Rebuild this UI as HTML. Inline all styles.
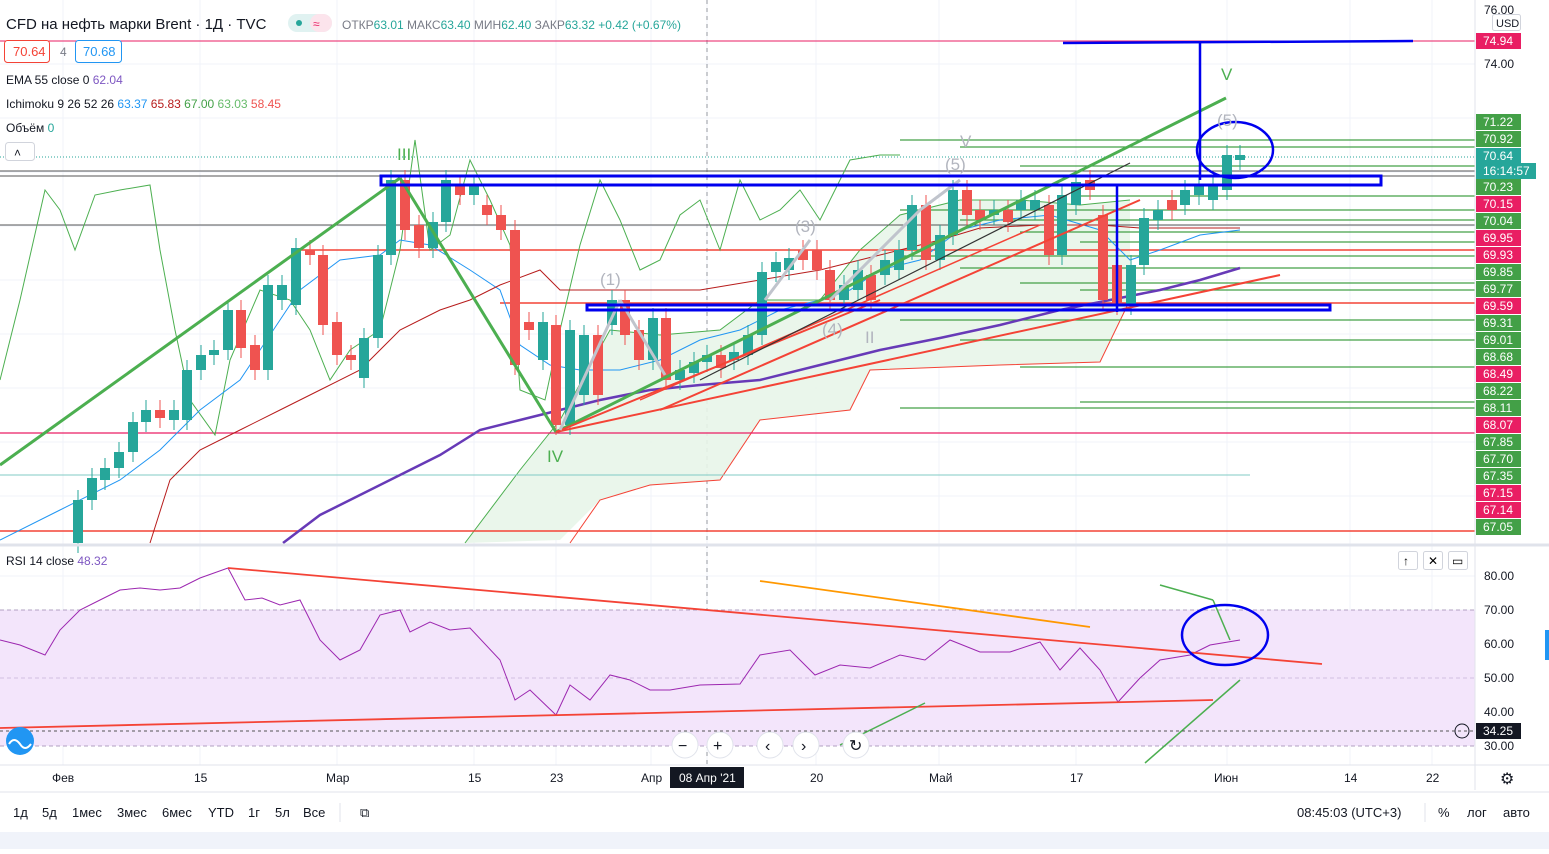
<!DOCTYPE html>
<html><head><meta charset="utf-8"><style>
body{margin:0;width:1549px;height:849px;overflow:hidden;background:#fff;font-family:"Liberation Sans","DejaVu Sans",sans-serif;}
svg text{font-family:"Liberation Sans","DejaVu Sans",sans-serif;}
</style></head><body>
<svg id="s" width="1549" height="849" xmlns="http://www.w3.org/2000/svg">
<rect width="1549" height="849" fill="#fff"/>
<g id="grid" stroke="#f0f3fa" stroke-width="1"></g>
<!-- RSI band -->
<rect x="0" y="610" width="1475" height="136" fill="#f3e5fb"/>
<line x1="0" y1="610" x2="1475" y2="610" stroke="#b0a0c0" stroke-dasharray="4,3"/>
<line x1="0" y1="746" x2="1475" y2="746" stroke="#b0a0c0" stroke-dasharray="4,3"/>
<line x1="0" y1="678" x2="1475" y2="678" stroke="#d0c0e0" stroke-dasharray="4,3"/>
<!-- cloud -->
<polygon points="465,543 520,470 560,420 610,330 660,335 720,330 760,300 820,300 860,250 900,215 960,200 1020,200 1080,205 1130,200 1130,300 1110,340 1100,362 1000,365 870,370 850,410 760,420 720,480 650,485 600,500 560,540" fill="#e8f5e9" opacity="0.9"/>
<polyline points="465,543 520,470 560,420 610,330 660,335 720,330 760,300 820,300 860,250 900,215 960,200 1020,200 1080,205 1130,200" fill="none" stroke="#4caf50" stroke-width="1"/>
<polyline points="570,543 600,500 650,485 720,480 760,420 850,410 870,370 1000,365 1100,362 1130,300" fill="none" stroke="#f44336" stroke-width="1"/>
<g id="lines"></g>
<g id="candles"></g>
<g id="over"></g>
<!-- pane separators -->
<line x1="0" y1="545" x2="1549" y2="545" stroke="#e0e3eb" stroke-width="3"/>
<line x1="0" y1="765" x2="1549" y2="765" stroke="#e0e3eb"/>
<line x1="1475" y1="0" x2="1475" y2="790" stroke="#e0e3eb"/>
<line x1="0" y1="792" x2="1549" y2="792" stroke="#e0e3eb"/>
<rect x="0" y="832" width="1549" height="17" fill="#f0f3fa"/>
<g id="axis"></g>
<!-- header -->
<text x="6" y="29" font-size="15" fill="#131722">CFD на нефть марки Brent · 1Д · TVC</text>
<rect x="288" y="14" width="44" height="18" rx="9" fill="#e0f2f1"/><rect x="310" y="14" width="22" height="18" rx="9" fill="#fce4ec"/>
<circle cx="299" cy="23" r="3" fill="#26a69a"/><text x="313" y="28" font-size="12" fill="#e91e63">≈</text>
<text x="342" y="29" font-size="12" fill="#787b86">ОТКР<tspan fill="#26a69a">63.01</tspan> МАКС<tspan fill="#26a69a">63.40</tspan> МИН<tspan fill="#26a69a">62.40</tspan> ЗАКР<tspan fill="#26a69a">63.32</tspan> <tspan fill="#26a69a">+0.42 (+0.67%)</tspan></text>
<rect x="4.5" y="40.5" width="45" height="22" rx="3" fill="#fff" stroke="#f44336"/><text x="13" y="56" font-size="13" fill="#f44336">70.64</text>
<text x="60" y="56" font-size="12" fill="#787b86">4</text>
<rect x="75.5" y="40.5" width="46" height="22" rx="3" fill="#fff" stroke="#2196f3"/><text x="83" y="56" font-size="13" fill="#2196f3">70.68</text>
<text x="6" y="84" font-size="12" fill="#131722">EMA 55 close 0 <tspan fill="#7e57c2">62.04</tspan></text>
<text x="6" y="108" font-size="12" fill="#131722">Ichimoku 9 26 52 26 <tspan fill="#2196f3">63.37</tspan> <tspan fill="#b71c1c">65.83</tspan> <tspan fill="#43a047">67.00</tspan> <tspan fill="#66bb6a">63.03</tspan> <tspan fill="#ef5350">58.45</tspan></text>
<text x="6" y="132" font-size="12" fill="#131722">Объём <tspan fill="#26a69a">0</tspan></text>
<rect x="5.5" y="142.5" width="29" height="18" rx="3" fill="#fff" stroke="#d1d4dc"/><text x="14" y="157" font-size="12" fill="#131722">˄</text>
<text x="6" y="565" font-size="12" fill="#131722">RSI 14 close <tspan fill="#7e57c2">48.32</tspan></text>
<!-- RSI buttons -->
<rect x="1398.5" y="551.5" width="19" height="18" rx="2" fill="#fff" stroke="#d1d4dc"/><text x="1403" y="565" font-size="12">↑</text>
<rect x="1423.5" y="551.5" width="19" height="18" rx="2" fill="#fff" stroke="#d1d4dc"/><text x="1428" y="565" font-size="12">✕</text>
<rect x="1448.5" y="551.5" width="19" height="18" rx="2" fill="#fff" stroke="#d1d4dc"/><text x="1452" y="565" font-size="12">▭</text>
<!-- nav buttons -->
<circle cx="20" cy="741" r="14" fill="#2196f3"/><path d="M9 744 q5-8 11 0 q5 8 11 0" fill="none" stroke="#fff" stroke-width="2"/>
<g fill="#fff" stroke="#e0e3eb"><circle cx="685" cy="745" r="13"/><circle cx="720" cy="745" r="13"/><circle cx="770" cy="745" r="13"/><circle cx="806" cy="745" r="13"/><circle cx="856" cy="745" r="13"/></g>
<g font-size="16" fill="#131722"><text x="678" y="751">−</text><text x="713" y="751">+</text><text x="765" y="751">‹</text><text x="801" y="751">›</text><text x="849" y="751">↻</text></g>
<!-- time axis -->
<g font-size="12" fill="#131722"><text x="52" y="782">Фев</text><text x="194" y="782">15</text><text x="326" y="782">Мар</text><text x="468" y="782">15</text><text x="550" y="782">23</text><text x="641" y="782">Апр</text><text x="810" y="782">20</text><text x="929" y="782">Май</text><text x="1070" y="782">17</text><text x="1214" y="782">Июн</text><text x="1344" y="782">14</text><text x="1426" y="782">22</text></g>
<rect x="670" y="767" width="74" height="21" fill="#131722"/><text x="679" y="782" font-size="12" fill="#fff">08 Апр '21</text>
<text x="1500" y="784" font-size="16" fill="#131722">⚙</text>
<!-- bottom toolbar -->
<g font-size="13" fill="#131722"><text x="13" y="817">1д</text><text x="42" y="817">5д</text><text x="72" y="817">1мес</text><text x="117" y="817">3мес</text><text x="162" y="817">6мес</text><text x="208" y="817">YTD</text><text x="248" y="817">1г</text><text x="275" y="817">5л</text><text x="303" y="817">Все</text><text x="360" y="817">⧉</text><text x="1297" y="817">08:45:03 (UTC+3)</text><text x="1438" y="817">%</text><text x="1467" y="817">лог</text><text x="1503" y="817">авто</text></g>
<line x1="340" y1="803" x2="340" y2="822" stroke="#e0e3eb"/><line x1="1425" y1="803" x2="1425" y2="822" stroke="#e0e3eb"/>
</svg>
<script>
const NS="http://www.w3.org/2000/svg";
function el(p,t,a){const e=document.createElementNS(NS,t);for(const k in a)e.setAttribute(k,a[k]);document.getElementById(p).appendChild(e);return e;}
// grid
[63,200,337,474,556,651,707,816,939,1076,1227,1350,1432].forEach(x=>el("grid","line",{x1:x,y1:0,x2:x,y2:765}));
[64,118,172,226,280,334,388,442,496,576,610,644,678,712].forEach(y=>el("grid","line",{x1:0,y1:y,x2:1475,y2:y}));
el("grid","line",{x1:707,y1:0,x2:707,y2:765,stroke:"#9598a1","stroke-dasharray":"4,4"});
// horizontal level lines
const L=[[0,41,1475,"#e91e63",1],[0,171,1475,"#555",1],[0,176,1475,"#555",1],[0,225,1475,"#555",1],[0,433,1475,"#e91e63",1.3],[0,531,1475,"#f44336",1.5],[0,475,1250,"#80cbc4",1],[300,250,1475,"#f44336",1.5],[500,303,1475,"#f44336",1.5],[0,157,1475,"#26a69a",1]];
L.forEach(a=>el("lines","line",{x1:a[0],y1:a[1],x2:a[2],y2:a[1],stroke:a[3],"stroke-width":a[4],"stroke-dasharray":a[3]=="#26a69a"?"1,2":"none"}));
[140,147,166,196,210,220,232,242,256,268,283,290,320,340,367,402,408].forEach((y,i)=>el("lines","line",{x1:900+(i%4)*60,y1:y,x2:1475,y2:y,stroke:"#43a047","stroke-width":1.3}));
// ichimoku lines
el("lines","polyline",{points:"0,380 20,300 45,190 60,210 75,250 95,195 120,190 150,185 160,250 175,330 190,400 215,435 230,360 260,290 290,300 310,330 330,380 350,350 380,330 400,250 415,140 430,250 450,235 470,160 490,200 510,245 520,390 545,400 560,330 580,245 600,180 620,220 640,270 660,260 680,215 700,200 720,250 740,180 760,220 780,210 800,190 820,220 850,160 880,155 900,155",fill:"none",stroke:"#4caf50","stroke-width":1});
el("lines","polyline",{points:"0,540 60,510 120,480 160,450 200,410 240,380 280,320 300,290 340,260 380,255 400,240 430,245 470,270 500,290 520,345 550,365 580,370 620,370 660,360 700,340 740,330 780,310 820,300 850,290 880,270 920,260 960,230 1000,220 1050,215 1100,230 1130,260 1160,250 1200,235 1240,230",fill:"none",stroke:"#2196f3","stroke-width":1});
el("lines","polyline",{points:"150,543 170,480 200,450 240,430 280,410 320,390 360,370 400,330 440,310 470,300 500,285 540,270 560,290 600,290 650,290 700,290 760,280 820,270 860,260 900,250 940,240 980,228 1040,225 1100,225 1140,228 1200,228 1240,228",fill:"none",stroke:"#b71c1c","stroke-width":1});
// EMA
el("lines","polyline",{points:"283,543 320,515 360,495 400,475 440,455 480,430 520,420 560,410 600,400 650,390 700,385 760,380 820,365 880,350 940,338 1000,325 1060,310 1110,300 1160,290 1200,280 1240,268",fill:"none",stroke:"#673ab7","stroke-width":2.5});
// drawings
function ln(x1,y1,x2,y2,c,w){el("over","line",{x1,y1,x2,y2,stroke:c,"stroke-width":w});}
ln(0,465,400,178,"#4caf50",3);ln(400,178,556,432,"#4caf50",3);ln(556,432,1226,98,"#4caf50",3);
ln(556,432,1280,275,"#f44336",2);ln(556,432,880,300,"#f44336",2);ln(660,410,1140,200,"#f44336",2);ln(640,400,1040,225,"#f44336",1.5);
ln(700,380,1130,163,"#333",1.2);
ln(560,430,620,300,"#c0c4cc",3);ln(620,300,665,375,"#c0c4cc",3);ln(765,300,810,240,"#c0c4cc",3);ln(830,300,920,210,"#c0c4cc",3);ln(920,210,960,180,"#c0c4cc",3);
// blue boxes
el("over","rect",{x:381,y:176,width:1000,height:9,fill:"none",stroke:"#0000ee","stroke-width":3});
el("over","rect",{x:587,y:305,width:743,height:5,fill:"none",stroke:"#0000ee","stroke-width":3});
ln(1063,43,1413,41,"#0000ee",2.5);ln(1200,43,1200,180,"#0000ee",2.5);ln(1117,185,1117,312,"#0000ee",2.5);
el("over","ellipse",{cx:1235,cy:150,rx:38,ry:28,fill:"none",stroke:"#0000ee","stroke-width":2.5});
// wave labels
[["III",397,160,"#4caf50"],["IV",547,462,"#4caf50"],["V",1221,80,"#4caf50"],["V",960,147,"#b2b5be"],["(5)",945,170,"#b2b5be"],["(5)",1217,126,"#b2b5be"],["(1)",600,285,"#b2b5be"],["(3)",795,232,"#b2b5be"],["(4)",822,335,"#b2b5be"],["II",865,343,"#b2b5be"]].forEach(a=>{const t=el("over","text",{x:a[1],y:a[2],"font-size":17,fill:a[3]});t.textContent=a[0];});
// candles
const C=[[78,500,543,1],[92,478,500,1],[105,468,480,1],[119,452,468,1],[133,422,452,1],[146,410,422,1],[160,410,418,0],[174,410,420,1],[187,370,420,1],[201,355,370,1],[214,350,355,1],[228,310,350,1],[241,310,348,0],[255,345,370,0],[268,285,370,1],[282,285,300,1],[296,248,305,1],[310,250,255,0],[323,255,325,0],[337,322,355,0],[351,355,360,0],[364,338,378,1],[378,255,338,1],[391,180,255,1],[405,180,230,0],[419,225,248,0],[433,222,248,1],[446,180,222,1],[460,185,195,0],[474,185,195,1],[487,205,215,0],[501,215,230,0],[515,230,365,0],[529,322,330,0],[543,322,360,1],[556,325,425,0],[570,330,425,1],[584,335,395,1],[598,335,395,0],[612,300,325,1],[625,300,335,0],[639,330,360,0],[653,318,360,1],[666,318,380,0],[680,370,380,1],[694,362,373,1],[707,355,362,1],[721,355,368,0],[734,352,360,1],[748,335,355,1],[762,272,335,1],[776,262,272,1],[789,258,270,1],[803,250,260,0],[817,250,270,0],[830,270,300,0],[844,285,300,1],[858,270,290,1],[871,275,300,0],[885,260,275,1],[899,250,270,1],[912,205,250,1],[926,205,260,0],[940,235,260,1],[953,190,235,1],[967,190,215,0],[980,210,220,0],[994,210,215,1],[1008,210,222,0],[1021,200,210,1],[1035,200,210,1],[1049,205,255,0],[1062,195,255,1],[1076,182,205,1],[1090,180,190,0],[1103,215,300,0],[1117,265,305,0],[1131,265,305,1],[1144,218,265,1],[1158,210,220,1],[1172,200,210,0],[1185,190,205,1],[1199,185,195,1],[1213,185,200,1],[1227,155,190,1],[1240,155,160,1]];
C.forEach(c=>{const col=c[3]?"#26a69a":"#ef5350";el("candles","line",{x1:c[0],y1:c[1]-10,x2:c[0],y2:c[2]+10,stroke:col});el("candles","rect",{x:c[0]-5,y:c[1],width:10,height:Math.max(2,c[2]-c[1]),fill:col});});
// RSI
el("over","polyline",{points:"0,640 20,645 45,655 60,630 80,610 100,600 120,590 140,588 160,590 180,588 200,578 228,568 245,600 262,598 280,605 300,600 320,640 340,660 360,650 380,615 400,610 410,632 430,622 450,630 470,628 500,660 515,700 530,690 556,715 570,685 590,700 610,675 630,680 650,690 670,690 700,685 740,684 760,655 790,650 815,675 840,665 870,668 900,655 925,660 950,640 980,652 1010,652 1040,642 1060,670 1080,648 1100,670 1118,702 1140,678 1160,660 1190,655 1210,645 1240,640",fill:"none",stroke:"#9c27b0","stroke-width":1});
ln(228,568,1322,664,"#f44336",1.8);ln(0,728,1213,700,"#f44336",1.8);ln(760,581,1090,627,"#ff9800",1.8);
ln(1160,585,1213,600,"#4caf50",1.5);ln(1213,600,1230,640,"#4caf50",1.5);ln(1145,763,1240,680,"#4caf50",1.5);ln(840,745,925,703,"#4caf50",1.5);
el("over","ellipse",{cx:1225,cy:635,rx:43,ry:30,fill:"none",stroke:"#0000ee","stroke-width":2.5});
// price axis labels
const P=[["76.00",10,null],["USD",23,"b"],["74.94",41,"#e91e63"],["74.00",64,null],["71.22",122,"#43a047"],["70.92",139,"#43a047"],["70.64",156,"#26a69a"],["16:14:57",171,"#26a69a"],["70.23",187,"#43a047"],["70.15",204,"#e91e63"],["70.04",221,"#43a047"],["69.95",238,"#e91e63"],["69.93",255,"#e91e63"],["69.85",272,"#43a047"],["69.77",289,"#43a047"],["69.59",306,"#e91e63"],["69.31",323,"#43a047"],["69.01",340,"#43a047"],["68.68",357,"#43a047"],["68.49",374,"#e91e63"],["68.22",391,"#43a047"],["68.11",408,"#43a047"],["68.07",425,"#e91e63"],["67.85",442,"#43a047"],["67.70",459,"#43a047"],["67.35",476,"#43a047"],["67.15",493,"#e91e63"],["67.14",510,"#e91e63"],["67.05",527,"#43a047"],["80.00",576,null],["70.00",610,null],["60.00",644,null],["50.00",678,null],["40.00",712,null],["34.25",731,"#131722"],["30.00",746,null]];
P.forEach(p=>{if(p[2]&&p[2]!="b"){el("axis","rect",{x:1476,y:p[1]-8,width:p[0].length>5?60:45,height:16,fill:p[2]});const t=el("axis","text",{x:1483,y:p[1]+4,"font-size":12,fill:"#fff"});t.textContent=p[0];}else if(p[2]=="b"){el("axis","rect",{x:1492.5,y:14.5,width:28,height:16,rx:2,fill:"#fff",stroke:"#d1d4dc"});const t=el("axis","text",{x:1496,y:27,"font-size":11,fill:"#131722"});t.textContent=p[0];}else{const t=el("axis","text",{x:1484,y:p[1]+4,"font-size":12,fill:"#131722"});t.textContent=p[0];}});
el("axis","circle",{cx:1462,cy:731,r:7,fill:"none",stroke:"#131722"});
el("axis","line",{x1:0,y1:731,x2:1475,y2:731,stroke:"#555","stroke-dasharray":"3,3"});
el("axis","rect",{x:1545,y:630,width:4,height:30,fill:"#2196f3"});
</script>
</body></html>
